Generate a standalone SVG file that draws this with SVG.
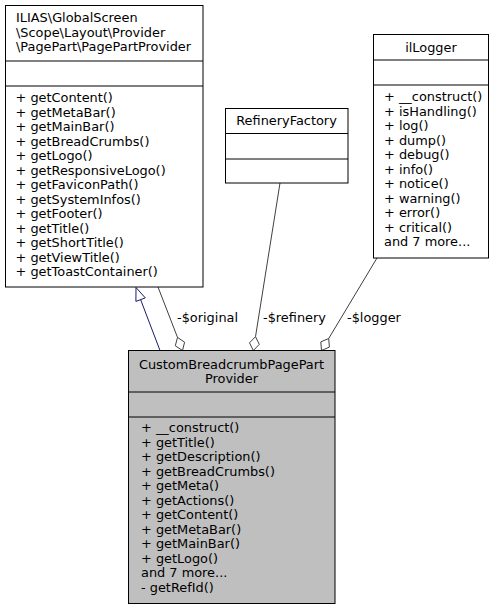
<svg xmlns="http://www.w3.org/2000/svg" width="500" height="609" viewBox="0 0 500 609">
<style>
text{font-family:"DejaVu Sans","Liberation Sans",sans-serif;font-size:12.9px;fill:#000}
.box{fill:#fff;stroke:#000;stroke-width:1}
.sel{fill:#bfbfbf;stroke:#000;stroke-width:1}
.sep{stroke:#000;stroke-width:1}
.use{fill:none;stroke:#404040;stroke-width:1}
.dia{fill:#fff;stroke:#404040;stroke-width:1}
.inh{fill:none;stroke:#191970;stroke-width:1}
.tri{fill:#fff;stroke:#191970;stroke-width:1}
.c{text-anchor:middle}
</style>
<rect width="500" height="609" fill="#fff"/>
<g id="edges">
<path class="inh" d="M160,350.5 L140.6,299.6"/>
<polygon class="tri" points="136,287.5 145.3,297.9 135.9,301.4"/>
<path class="use" d="M158,287 L177.5,337.4"/>
<polygon class="dia" points="182.5,350.5 184.6,342.2 177.5,337.4 175.3,345.8"/>
<text x="177" y="322">-$original</text>
<path class="use" d="M280,183 L255.5,336.7"/>
<polygon class="dia" points="253.3,350.5 259.3,344.4 255.5,336.7 249.5,342.8"/>
<text x="263" y="322">-$refinery</text>
<path class="use" d="M377,258 L328.7,338.5"/>
<polygon class="dia" points="321.5,350.5 329.4,347.1 328.7,338.5 320.8,341.9"/>
<text x="347" y="322">-$logger</text>
</g>
<g id="node_pagepartprovider">
<rect class="box" x="5.5" y="5.5" width="197.5" height="281.5"/>
<line class="sep" x1="5.5" y1="61" x2="203" y2="61"/>
<line class="sep" x1="5.5" y1="86" x2="203" y2="86"/>
<text x="16" y="22">ILIAS\GlobalScreen</text>
<text x="16" y="36.5">\Scope\Layout\Provider</text>
<text x="16" y="51">\PagePart\PagePartProvider</text>
<text x="15.5" y="102">+ getContent()</text>
<text x="15.5" y="116.5">+ getMetaBar()</text>
<text x="15.5" y="131">+ getMainBar()</text>
<text x="15.5" y="145.5">+ getBreadCrumbs()</text>
<text x="15.5" y="160">+ getLogo()</text>
<text x="15.5" y="174.5">+ getResponsiveLogo()</text>
<text x="15.5" y="189">+ getFaviconPath()</text>
<text x="15.5" y="203.5">+ getSystemInfos()</text>
<text x="15.5" y="218">+ getFooter()</text>
<text x="15.5" y="232.5">+ getTitle()</text>
<text x="15.5" y="247">+ getShortTitle()</text>
<text x="15.5" y="261.5">+ getViewTitle()</text>
<text x="15.5" y="276">+ getToastContainer()</text>
</g>
<g id="node_refineryfactory">
<rect class="box" x="225.5" y="108.5" width="122.5" height="74.5"/>
<line class="sep" x1="225.5" y1="133.5" x2="348" y2="133.5"/>
<line class="sep" x1="225.5" y1="159" x2="348" y2="159"/>
<text class="c" x="286.5" y="125">RefineryFactory</text>
</g>
<g id="node_illogger">
<rect class="box" x="373.5" y="34.5" width="115" height="223.5"/>
<line class="sep" x1="373.5" y1="60" x2="488.5" y2="60"/>
<line class="sep" x1="373.5" y1="85" x2="488.5" y2="85"/>
<text class="c" x="431" y="52">ilLogger</text>
<text x="384" y="101">+ __construct()</text>
<text x="384" y="115.5">+ isHandling()</text>
<text x="384" y="130">+ log()</text>
<text x="384" y="144.5">+ dump()</text>
<text x="384" y="159">+ debug()</text>
<text x="384" y="173.5">+ info()</text>
<text x="384" y="188">+ notice()</text>
<text x="384" y="202.5">+ warning()</text>
<text x="384" y="217">+ error()</text>
<text x="384" y="231.5">+ critical()</text>
<text x="384" y="246">and 7 more...</text>
</g>
<g id="node_custombreadcrumb">
<rect class="sel" x="128.5" y="350.5" width="206.5" height="253"/>
<line class="sep" x1="128.5" y1="392" x2="335" y2="392"/>
<line class="sep" x1="128.5" y1="417" x2="335" y2="417"/>
<text class="c" x="231.5" y="369">CustomBreadcrumbPagePart</text>
<text class="c" x="231.5" y="383">Provider</text>
<text x="141" y="432">+ __construct()</text>
<text x="141" y="446.5">+ getTitle()</text>
<text x="141" y="461">+ getDescription()</text>
<text x="141" y="475.5">+ getBreadCrumbs()</text>
<text x="141" y="490">+ getMeta()</text>
<text x="141" y="504.5">+ getActions()</text>
<text x="141" y="519">+ getContent()</text>
<text x="141" y="533.5">+ getMetaBar()</text>
<text x="141" y="548">+ getMainBar()</text>
<text x="141" y="562.5">+ getLogo()</text>
<text x="141" y="577">and 7 more...</text>
<text x="141" y="591.5">- getRefId()</text>
</g>
</svg>
